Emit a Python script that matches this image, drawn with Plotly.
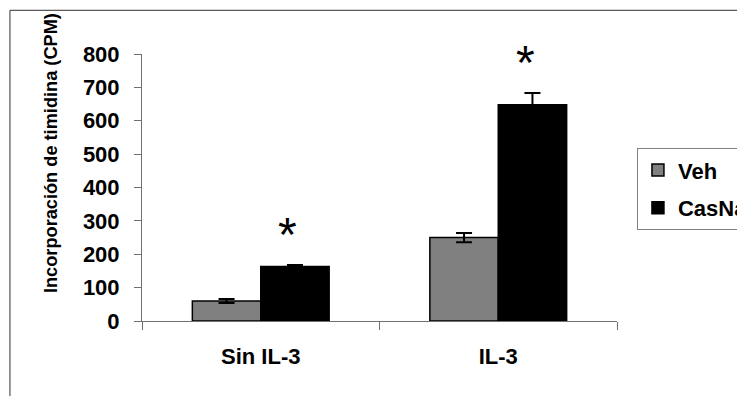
import plotly.graph_objects as go

categories = ["Sin IL-3", "IL-3"]
veh_values = [60, 250]
veh_errors = [6, 14]
casna_values = [163, 648]
casna_errors = [5, 35]
series_names = ["Veh", "CasNa"]
y_ticks = [0, 100, 200, 300, 400, 500, 600, 700, 800]
significance = ["*", "*"]

FONT = "Liberation Sans, Arial, sans-serif"
AXIS_COLOR = "#707070"

fig = go.Figure()
fig.add_trace(go.Bar(
    x=categories, y=veh_values, name=series_names[0], legendgroup="a",
    marker=dict(color="#808080", line=dict(color="#000000", width=1.5)),
    error_y=dict(type="data", array=veh_errors, color="#000000", thickness=2, width=8),
))
fig.add_trace(go.Bar(
    x=categories, y=casna_values, name=series_names[1], legendgroup="b",
    marker=dict(color="#000000", line=dict(color="#000000", width=1.5)),
    error_y=dict(type="data", array=casna_errors, color="#000000", thickness=2, width=8),
))

for cat, v, e, s in zip(categories, casna_values, casna_errors, significance):
    fig.add_annotation(
        x=cat, y=v + e, xref="x", yref="y", text=s, showarrow=False,
        xshift=27, yshift=2, yanchor="bottom",
        font=dict(family=FONT, size=48, color="#000000"),
    )

# y-axis title as rotated text
fig.add_annotation(
    x=-0.1916, y=0.629, xref="paper", yref="paper", xanchor="center", yanchor="middle",
    text="<b>Incorporación de timidina (CPM)</b>", textangle=-90, showarrow=False,
    font=dict(family=FONT, size=18.2, color="#000000"),
)

# outer frame of the chart area
fig.add_shape(
    type="rect", xref="paper", yref="paper",
    x0=-0.278, x1=1.40, y0=-0.40, y1=1.1637,
    line=dict(color="#303030", width=1), fillcolor="rgba(0,0,0,0)", layer="below",
)

fig.update_layout(
    width=745, height=396,
    margin=dict(l=134, r=136, t=46, b=83, autoexpand=False),
    paper_bgcolor="#ffffff", plot_bgcolor="#ffffff",
    barmode="group", bargap=0.424, bargroupgap=0,
    font=dict(family=FONT, color="#000000"),
    showlegend=True,
    legend=dict(
        x=1.042, y=0.647, xanchor="left", yanchor="top",
        bgcolor="#ffffff", bordercolor="#808080", borderwidth=1,
        font=dict(family=FONT, size=22, color="#000000", weight="bold"),
        tracegroupgap=6, traceorder="grouped",
    ),
    xaxis=dict(
        type="category", showgrid=False, zeroline=False,
        showline=True, linecolor=AXIS_COLOR, linewidth=1,
        ticks="outside", tickson="boundaries", ticklen=8, tickcolor=AXIS_COLOR,
        tickfont=dict(family=FONT, size=22, color="#000000", weight="bold"),
        ticklabelstandoff=16,
    ),
    yaxis=dict(
        range=[0, 800], tickvals=y_ticks, showgrid=False, zeroline=False,
        showline=True, linecolor=AXIS_COLOR, linewidth=1,
        ticks="outside", ticklen=7, tickcolor=AXIS_COLOR,
        tickfont=dict(family=FONT, size=22, color="#000000", weight="bold"),
        ticklabelstandoff=10,
    ),
)

fig.write_html("out.html")
